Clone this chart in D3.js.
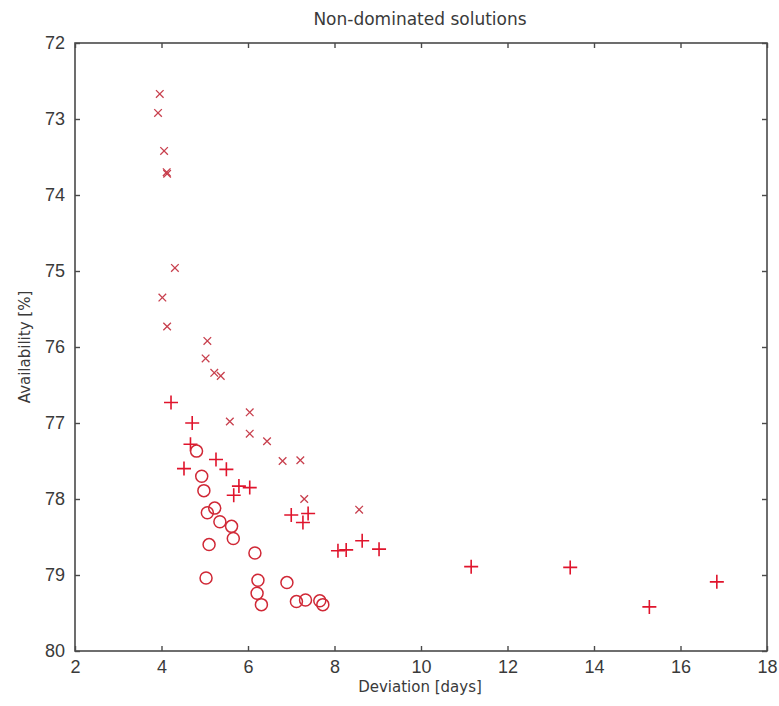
<!DOCTYPE html>
<html><head><meta charset="utf-8">
<script src="https://cdn.jsdelivr.net/npm/d3@7"></script>
<style>body{margin:0;background:#fff}svg{display:block}</style>
</head><body>
<svg id="c" width="779" height="706"></svg>
<script>
const title = "Non-dominated solutions";
const xLabel = "Deviation [days]";
const yLabel = "Availability [%]";
const xTicks = [2,4,6,8,10,12,14,16,18];
const yTicks = [72,73,74,75,76,77,78,79,80];

const crossDev   = [3.96,3.92,4.06,4.12,4.13,4.31,4.02,4.13,5.06,5.02,5.22,5.37,5.58,6.04,6.04,6.44,6.80,7.21,7.30,8.57];
const crossAvail = [72.67,72.92,73.42,73.70,73.72,74.96,75.35,75.73,75.92,76.15,76.34,76.38,76.98,76.86,77.14,77.24,77.50,77.49,78.00,78.14];

const plusDev   = [4.22,4.71,4.67,5.26,4.52,5.50,5.79,6.04,5.67,7.00,7.39,7.27,8.08,8.27,8.64,9.03,11.16,13.45,15.28,16.84];
const plusAvail = [76.73,77.00,77.28,77.48,77.60,77.61,77.83,77.85,77.95,78.21,78.19,78.31,78.68,78.67,78.55,78.66,78.89,78.90,79.42,79.09];

const circDev   = [4.81,4.93,4.98,5.23,5.06,5.35,5.62,5.66,5.10,6.16,5.03,6.23,6.90,6.21,6.31,7.12,7.33,7.66,7.73];
const circAvail = [77.37,77.70,77.89,78.12,78.18,78.30,78.36,78.52,78.60,78.71,79.04,79.07,79.10,79.24,79.39,79.35,79.33,79.34,79.39];

const svg = d3.select("#c");
const tickFont = "'Liberation Sans', Arial, sans-serif";
const labelFont = "'DejaVu Sans', sans-serif";
const x = d3.scaleLinear().domain([2,18]).range([75,767]);
const y = d3.scaleLinear().domain([72,80]).range([43,651]);
const axisCol = "#4a4a4a";

// frame
svg.append("rect").attr("x",x(2)).attr("y",y(72)).attr("width",x(18)-x(2)).attr("height",y(80)-y(72))
  .attr("fill","none").attr("stroke",axisCol).attr("stroke-width",1.6);

// axes (ticks inward)
const gb = svg.append("g").attr("transform",`translate(0,${y(80)})`)
  .call(d3.axisBottom(x).tickValues(xTicks).tickSizeInner(-5).tickSizeOuter(0).tickPadding(9));
const gt = svg.append("g").attr("transform",`translate(0,${y(72)})`)
  .call(d3.axisTop(x).tickValues(xTicks).tickSizeInner(-5).tickSizeOuter(0).tickFormat(""));
const gl = svg.append("g").attr("transform",`translate(${x(2)},0)`)
  .call(d3.axisLeft(y).tickValues(yTicks).tickSizeInner(-5).tickSizeOuter(0).tickPadding(10));
const gr = svg.append("g").attr("transform",`translate(${x(18)},0)`)
  .call(d3.axisRight(y).tickValues(yTicks).tickSizeInner(-5).tickSizeOuter(0).tickFormat(""));
[gb,gt,gl,gr].forEach(g=>{
  g.select(".domain").remove();
  g.selectAll(".tick line").attr("stroke",axisCol).attr("stroke-width",1.4);
  g.selectAll("text").attr("fill","#3a3a3a").style("font-family",tickFont).style("font-size","18px");
});

// title and labels
svg.append("text").attr("x",420).attr("y",25).attr("text-anchor","middle")
  .style("font-family",labelFont).style("font-size","17px").attr("fill","#3a3a3a").text(title);
svg.append("text").attr("x",420).attr("y",692).attr("text-anchor","middle")
  .style("font-family",labelFont).style("font-size","15px").attr("fill","#3a3a3a").text(xLabel);
svg.append("text").attr("transform",`translate(30,${(y(72)+y(80))/2}) rotate(-90)`).attr("text-anchor","middle")
  .style("font-family",labelFont).style("font-size","15px").attr("fill","#3a3a3a").text(yLabel);

// crosses
const cs = 3.8;
svg.append("g").selectAll("path").data(crossDev.map((d,i)=>[d,crossAvail[i]])).join("path")
  .attr("d",d=>{const px=x(d[0]),py=y(d[1]);return `M${px-cs},${py-cs}L${px+cs},${py+cs}M${px-cs},${py+cs}L${px+cs},${py-cs}`;})
  .attr("stroke","#c8404e").attr("stroke-width",1.3).attr("fill","none");

// pluses
const ps = 7;
svg.append("g").selectAll("path").data(plusDev.map((d,i)=>[d,plusAvail[i]])).join("path")
  .attr("d",d=>{const px=x(d[0]),py=y(d[1]);return `M${px-ps},${py}L${px+ps},${py}M${px},${py-ps}L${px},${py+ps}`;})
  .attr("stroke","#e0142c").attr("stroke-width",1.6).attr("fill","none");

// circles
svg.append("g").selectAll("circle").data(circDev.map((d,i)=>[d,circAvail[i]])).join("circle")
  .attr("cx",d=>x(d[0])).attr("cy",d=>y(d[1])).attr("r",6)
  .attr("stroke","#d02836").attr("stroke-width",1.5).attr("fill","none");
</script>
</body></html>
